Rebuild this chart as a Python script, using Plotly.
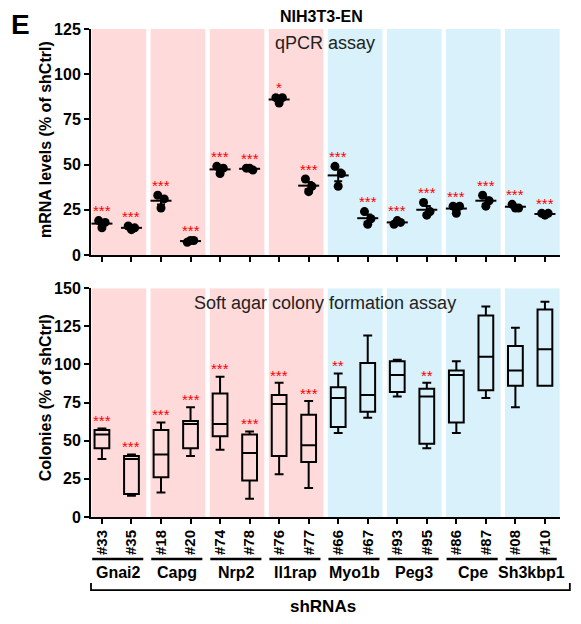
import numpy as np
import plotly.graph_objects as go

# ---------------- data ----------------
shrnas = ["#33", "#35", "#18", "#20", "#74", "#78", "#76", "#77",
          "#66", "#67", "#93", "#95", "#86", "#87", "#08", "#10"]
genes = ["Gnai2", "Capg", "Nrp2", "Il1rap", "Myo1b", "Peg3", "Cpe", "Sh3kbp1"]
gene_class = ["red", "red", "red", "red", "blue", "blue", "blue", "blue"]

# qPCR replicates (% of shCtrl)
qpcr_rep1 = [19, 16, 33, 7, 49, 48, 87, 42, 49, 24, 17, 29, 27, 33, 28, 23]
qpcr_rep2 = [18, 15, 31, 8, 48, 47, 87, 38, 45, 20, 18, 24, 27, 30, 26, 23]
qpcr_rep3 = [15, 14, 26, 8, 45, 48, 84, 35, 38, 17, 19, 22, 23, 27, 26, 22]
qpcr_sig = ["***", "***", "***", "***", "***", "***", "*", "***",
            "***", "***", "***", "***", "***", "***", "***", "***"]

# Soft agar colonies (% of shCtrl), box statistics
col_min = [38, 14, 16, 40, 44, 12, 28, 19, 55, 65, 79, 45, 55, 78, 72, 86]
col_q1 = [45, 15, 26, 45, 53, 24, 40, 36, 59, 69, 82, 48, 62, 83, 86, 86]
col_med = [54, 38, 41, 61, 61, 42, 74, 47, 78, 80, 93, 79, 93, 105, 96, 110]
col_q3 = [57, 40, 57, 63, 81, 54, 80, 67, 85, 101, 102, 84, 96, 132, 112, 136]
col_max = [58, 41, 62, 72, 92, 56, 88, 76, 94, 119, 103, 88, 102, 138, 124, 141]
col_sig = ["***", "***", "***", "***", "***", "***", "***", "***",
           "**", "", "", "**", "", "", "", ""]

top_ticks = [0, 25, 50, 75, 100, 125]
bot_ticks = [0, 25, 50, 75, 100, 125, 150]

# ---------------- styling ----------------
FONT = "Liberation Sans, Arial, sans-serif"
PINK = "#FFDADA"
BLUE = "#D8F1FA"
XMIN, XMAX = -0.37, 15.51
JIT = [-0.11, 0.11, 0.0]
TOP_DOM = [0.537, 1.0]
BOT_DOM = [0.0, 0.469]

pos = np.arange(len(shrnas))
reps = np.array([qpcr_rep1, qpcr_rep2, qpcr_rep3], dtype=float)
means = reps.mean(axis=0)
sems = reps.std(axis=0, ddof=1) / np.sqrt(reps.shape[0])

fig = go.Figure()

# qPCR dots
for r in range(reps.shape[0]):
    fig.add_trace(go.Scatter(
        x=pos + JIT[r], y=reps[r], mode="markers",
        marker=dict(color="black", size=9, line=dict(width=0)),
        xaxis="x", yaxis="y", showlegend=False, hoverinfo="skip"))
# mean + SEM
fig.add_trace(go.Scatter(
    x=pos, y=means, mode="markers",
    marker=dict(symbol="line-ew", size=15, line=dict(color="black", width=2)),
    error_y=dict(type="data", array=sems, color="black", thickness=2, width=4),
    xaxis="x", yaxis="y", showlegend=False, hoverinfo="skip"))

# boxes
fig.add_trace(go.Box(
    x=pos, q1=col_q1, median=col_med, q3=col_q3,
    lowerfence=col_min, upperfence=col_max,
    width=0.5, whiskerwidth=0.6,
    line=dict(color="black", width=2), fillcolor="rgba(0,0,0,0)",
    xaxis="x2", yaxis="y2", showlegend=False, hoverinfo="skip"))

shapes = []
annotations = []


def px_paper(xv):
    return (xv - XMIN) / (XMAX - XMIN)


for k, (g, cls) in enumerate(zip(genes, gene_class)):
    col = PINK if cls == "red" else BLUE
    x0, x1 = 2 * k - 0.35, 2 * k + 1.5
    shapes.append(dict(type="rect", xref="x", yref="y", x0=x0, x1=x1,
                       y0=0, y1=top_ticks[-1], fillcolor=col,
                       line=dict(width=0), layer="below"))
    shapes.append(dict(type="rect", xref="x2", yref="y2", x0=x0, x1=x1,
                       y0=0, y1=bot_ticks[-1], fillcolor=col,
                       line=dict(width=0), layer="below"))
    # gene underline
    shapes.append(dict(type="line", xref="paper", yref="paper",
                       x0=px_paper(2 * k - 0.33), x1=px_paper(2 * k + 1.4),
                       y0=-0.086, y1=-0.086,
                       line=dict(color="black", width=2.5)))
    annotations.append(dict(text="<b>" + g + "</b>", xref="paper", yref="paper",
                            x=px_paper(2 * k + 0.55), y=-0.113,
                            showarrow=False, xanchor="center", yanchor="middle",
                            font=dict(family=FONT, size=16, color="black")))

# bracket
shapes.append(dict(type="path", xref="paper", yref="paper",
                   path="M 0,-0.135 L 0,-0.150 L 1.021,-0.150 L 1.021,-0.135",
                   line=dict(color="black", width=1.8)))
annotations.append(dict(text="<b>shRNAs</b>", xref="paper", yref="paper",
                        x=px_paper(7.5), y=-0.184, showarrow=False,
                        xanchor="center", yanchor="middle",
                        font=dict(family=FONT, size=17, color="black")))

# significance stars
for i in range(len(shrnas)):
    if qpcr_sig[i]:
        annotations.append(dict(text=qpcr_sig[i], xref="x", yref="y",
                                x=pos[i], y=reps[:, i].max() + 5.5,
                                showarrow=False, xanchor="center", yanchor="middle",
                                font=dict(family=FONT, size=15, color="#FF0000")))
    if col_sig[i]:
        annotations.append(dict(text=col_sig[i], xref="x2", yref="y2",
                                x=pos[i], y=col_max[i] + 5,
                                showarrow=False, xanchor="center", yanchor="middle",
                                font=dict(family=FONT, size=15, color="#FF0000")))

# panel texts
annotations.append(dict(text="qPCR assay", xref="x", yref="y", x=7.55, y=117,
                        showarrow=False, xanchor="center", yanchor="middle",
                        font=dict(family=FONT, size=18, color="#222")))
annotations.append(dict(text="Soft agar colony formation assay", xref="x2", yref="y2",
                        x=7.55, y=140, showarrow=False, xanchor="center", yanchor="middle",
                        font=dict(family=FONT, size=18, color="#222")))
annotations.append(dict(text="<b>NIH3T3-EN</b>", xref="paper", yref="paper",
                        x=0.4925, y=1.0246, showarrow=False,
                        xanchor="center", yanchor="middle",
                        font=dict(family=FONT, size=16, color="black")))
annotations.append(dict(text="<b>E</b>", xref="paper", yref="paper",
                        x=-0.151, y=1.0102, showarrow=False,
                        xanchor="center", yanchor="middle",
                        font=dict(family=FONT, size=28, color="black")))
# y-axis titles
annotations.append(dict(text="<b>mRNA levels (% of shCtrl)</b>", xref="paper", yref="paper",
                        x=-0.098, y=(TOP_DOM[0] + TOP_DOM[1]) / 2 + 0.004,
                        textangle=-90, showarrow=False,
                        xanchor="center", yanchor="middle",
                        font=dict(family=FONT, size=16, color="black")))
annotations.append(dict(text="<b>Colonies (% of shCtrl)</b>", xref="paper", yref="paper",
                        x=-0.098, y=(BOT_DOM[0] + BOT_DOM[1]) / 2 + 0.009,
                        textangle=-90, showarrow=False,
                        xanchor="center", yanchor="middle",
                        font=dict(family=FONT, size=16, color="black")))

axis_common = dict(showline=True, linecolor="black", linewidth=2, ticks="outside",
                   ticklen=5, tickwidth=2, tickcolor="black", showgrid=False,
                   zeroline=False, automargin=False)

# the page body has an 8px default margin, so the figure is sized to fit the window
fig.update_layout(
    width=573, height=616,
    margin=dict(l=83, r=21, t=21, b=107),
    paper_bgcolor="white", plot_bgcolor="white",
    font=dict(family=FONT, color="black"),
    shapes=shapes, annotations=annotations,
    xaxis=dict(domain=[0, 1], anchor="y", range=[XMIN, XMAX],
               tickvals=list(pos), ticktext=[""] * len(pos), **axis_common),
    yaxis=dict(domain=TOP_DOM, anchor="x", range=[0, 125], tickvals=top_ticks,
               tickfont=dict(family=FONT, size=16, weight="bold"), **axis_common),
    xaxis2=dict(domain=[0, 1], anchor="y2", range=[XMIN, XMAX],
                tickvals=list(pos), ticktext=["<b>" + s + "</b>" for s in shrnas],
                tickangle=-90, tickfont=dict(family=FONT, size=15), **axis_common),
    yaxis2=dict(domain=BOT_DOM, anchor="x2", range=[0, 150], tickvals=bot_ticks,
                tickfont=dict(family=FONT, size=16, weight="bold"), **axis_common),
)

fig.write_html("out.html")
